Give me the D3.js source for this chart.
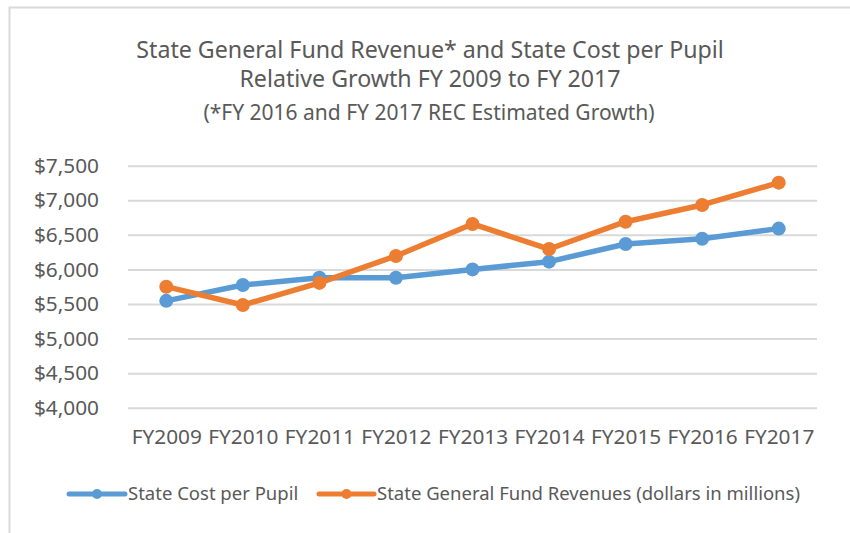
<!DOCTYPE html>
<html>
<head>
<meta charset="utf-8">
<script src="https://cdn.jsdelivr.net/npm/d3@7"></script>
<style>
  body { margin: 0; background: #fff; }
  svg { display: block; }
  text { font-family: "Noto Sans", "Open Sans", sans-serif; fill: #595959; }
</style>
</head>
<body>
<svg id="chart" width="850" height="533"></svg>
<script>
// data
const categories = ["FY2009", "FY2010", "FY2011", "FY2012", "FY2013", "FY2014", "FY2015", "FY2016", "FY2017"];
const costPerPupil = [5545, 5775, 5880, 5880, 6000, 6112, 6368, 6444, 6590];
const fundRevenues = [5750, 5485, 5805, 6195, 6657, 6295, 6690, 6932, 7255];
const yTicks = [4000, 4500, 5000, 5500, 6000, 6500, 7000, 7500];
const titleLines = [
  "State General Fund Revenue* and State Cost per Pupil",
  "Relative Growth FY 2009 to FY 2017",
  "(*FY 2016 and FY 2017 REC Estimated Growth)"
];

const series = [
  { name: "State Cost per Pupil", values: costPerPupil, color: "#5B9BD5" },
  { name: "State General Fund Revenues (dollars in millions)", values: fundRevenues, color: "#ED7D31" }
];

const svg = d3.select("#chart");

// chart frame (runs off the right and bottom edges like the screenshot)
svg.append("rect")
  .attr("x", 9.5).attr("y", 7.5)
  .attr("width", 900).attr("height", 600)
  .attr("fill", "#fff")
  .attr("stroke", "#D9D9D9")
  .attr("stroke-width", 2);

// title
const title = svg.append("g").attr("text-anchor", "middle");
title.append("text").attr("x", 430).attr("y", 58).attr("font-size", 23.2).text(titleLines[0]);
title.append("text").attr("x", 430).attr("y", 87).attr("font-size", 23.2).text(titleLines[1]);
title.append("text").attr("x", 429).attr("y", 120).attr("font-size", 21).text(titleLines[2]);

const margin = { left: 128, top: 165.7 };
const width = 689, height = 242;

const g = svg.append("g").attr("transform", `translate(${margin.left},${margin.top})`);

const x = d3.scalePoint().domain(categories).range([0, width]).padding(0.5);
const y = d3.scaleLinear().domain([4000, 7500]).range([height, 0]);

// gridlines + y labels
const yAxis = g.append("g")
  .call(d3.axisLeft(y)
    .tickValues(yTicks)
    .tickSize(-width)
    .tickPadding(29)
    .tickFormat(d => "$" + d3.format(",")(d)));
yAxis.select(".domain").remove();
yAxis.selectAll("line").attr("stroke", "#D9D9D9").attr("stroke-width", 2);
yAxis.selectAll("text").attr("font-size", 20.8).attr("fill", "#595959").attr("font-family", null);

// x labels
const xAxis = g.append("g")
  .attr("transform", `translate(0,${height})`)
  .call(d3.axisBottom(x).tickSize(0).tickPadding(22));
xAxis.select(".domain").remove();
xAxis.selectAll("text").attr("font-size", 20.8).attr("fill", "#595959").attr("font-family", null);

const line = d3.line()
  .x((d, i) => x(categories[i]))
  .y(d => y(d));

series.forEach(s => {
  g.append("path")
    .datum(s.values)
    .attr("d", line)
    .attr("fill", "none")
    .attr("stroke", s.color)
    .attr("stroke-width", 5.5)
    .attr("stroke-linejoin", "round")
    .attr("stroke-linecap", "round");
  g.selectAll(null)
    .data(s.values)
    .join("circle")
    .attr("cx", (d, i) => x(categories[i]))
    .attr("cy", d => y(d))
    .attr("r", 7)
    .attr("fill", s.color);
});

// legend
const legendY = 494;
const legendItems = [
  { x0: 69, x1: 125, tx: 128 },
  { x0: 319, x1: 374, tx: 377 }
];
series.forEach((s, i) => {
  const it = legendItems[i];
  const lg = svg.append("g");
  lg.append("line")
    .attr("x1", it.x0).attr("x2", it.x1)
    .attr("y1", legendY).attr("y2", legendY)
    .attr("stroke", s.color).attr("stroke-width", 5)
    .attr("stroke-linecap", "round");
  lg.append("circle")
    .attr("cx", (it.x0 + it.x1) / 2).attr("cy", legendY)
    .attr("r", 5).attr("fill", s.color);
  lg.append("text")
    .attr("x", it.tx).attr("y", legendY)
    .attr("dy", "0.35em")
    .attr("font-size", 18.5)
    .text(s.name);
});
</script>
</body>
</html>
